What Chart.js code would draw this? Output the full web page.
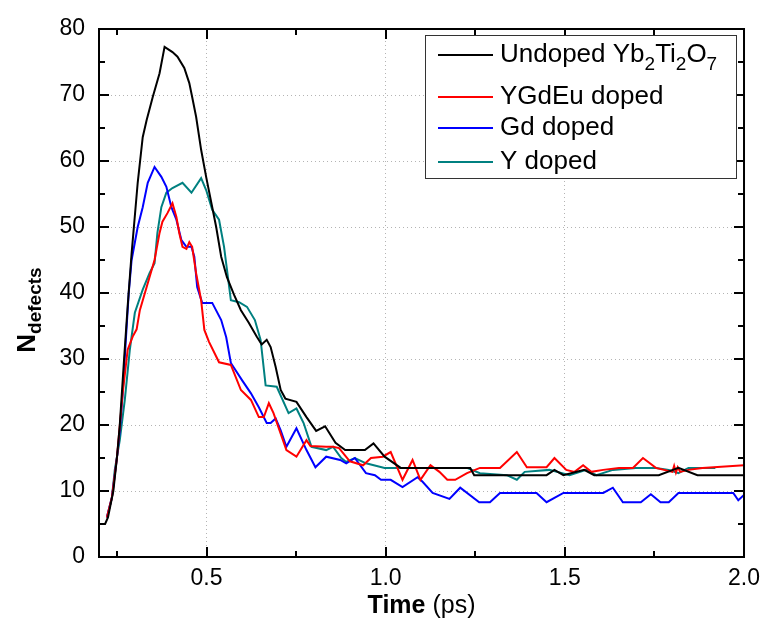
<!DOCTYPE html>
<html>
<head>
<meta charset="utf-8">
<script src="https://cdn.jsdelivr.net/npm/chart.js@4.4.1/dist/chart.umd.min.js"></script>
<style>
  html, body { margin: 0; padding: 0; background: #fff; }
  #wrap { position: relative; width: 768px; height: 622px; }
</style>
</head>
<body>
<div id="wrap"><canvas id="chart" width="768" height="622"></canvas></div>
<script>
// Defect counts vs time
const undopedT = [0.2, 0.217, 0.225, 0.24, 0.25, 0.258, 0.27, 0.28, 0.291, 0.308, 0.322, 0.333, 0.35, 0.369, 0.383, 0.405, 0.419, 0.438, 0.452, 0.46, 0.471, 0.485, 0.499, 0.516, 0.527, 0.541, 0.557, 0.577, 0.596, 0.618, 0.64, 0.654, 0.668, 0.679, 0.693, 0.707, 0.72, 0.751, 0.779, 0.806, 0.831, 0.86, 0.887, 0.942, 0.966, 0.997, 1.042, 1.236, 1.247, 1.449, 1.471, 1.496, 1.554, 1.582, 1.762, 1.817, 1.87, 2.0];
const undopedN = [5, 5, 6, 10, 15, 20, 30, 38, 46, 56.7, 63.6, 66.2, 69.7, 73.3, 77.3, 76.5, 75.8, 74.1, 71.8, 69.7, 66.7, 61.7, 57.6, 53, 50, 45.5, 42.4, 39.7, 37.4, 35.5, 33.4, 32.2, 32.9, 31.8, 28.8, 25.3, 24, 23.5, 21.2, 19.1, 19.8, 17.3, 16.2, 16.2, 17.2, 15.2, 13.5, 13.5, 12.4, 12.4, 13.2, 12.4, 13.2, 12.4, 12.4, 13.5, 12.4, 12.4];

const ygdeuT = [0.222, 0.236, 0.25, 0.266, 0.28, 0.294, 0.305, 0.314, 0.333, 0.355, 0.369, 0.377, 0.391, 0.405, 0.416, 0.424, 0.433, 0.444, 0.452, 0.46, 0.471, 0.485, 0.494, 0.507, 0.535, 0.568, 0.596, 0.624, 0.646, 0.66, 0.674, 0.687, 0.723, 0.751, 0.779, 0.79, 0.834, 0.853, 0.87, 0.9, 0.937, 0.959, 0.992, 1.014, 1.047, 1.075, 1.097, 1.125, 1.15, 1.172, 1.194, 1.227, 1.263, 1.319, 1.366, 1.394, 1.449, 1.471, 1.504, 1.527, 1.551, 1.574, 1.607, 1.651, 1.69, 1.718, 1.754, 1.8, 1.805, 1.81, 1.815, 1.822, 1.845, 1.884, 2.0];
const ygdeuN = [6, 9, 15, 24.8, 31.4, 33.4, 34.5, 37.4, 40.9, 45, 49.1, 50.8, 52.1, 53.6, 51.5, 49.1, 47, 46.7, 47.7, 47, 43, 38.9, 34.4, 32.6, 29.5, 29.1, 25.3, 23.8, 21.2, 21.2, 23.3, 21.8, 16.2, 15.2, 17.7, 16.8, 16.7, 16.7, 16.5, 14.5, 13.9, 15, 15.2, 15.9, 11.7, 14.7, 11.7, 13.9, 12.9, 11.7, 11.7, 12.7, 13.5, 13.5, 15.9, 13.6, 13.6, 15, 13.2, 12.9, 13.9, 12.9, 13.2, 13.5, 13.5, 15, 13.5, 12.9, 13.8, 12.8, 13.6, 12.9, 13.2, 13.5, 13.9];

const gdT = [0.222, 0.236, 0.25, 0.258, 0.266, 0.275, 0.283, 0.291, 0.308, 0.322, 0.336, 0.355, 0.374, 0.388, 0.402, 0.416, 0.43, 0.444, 0.458, 0.466, 0.474, 0.488, 0.516, 0.541, 0.555, 0.568, 0.599, 0.624, 0.646, 0.668, 0.679, 0.693, 0.707, 0.723, 0.751, 0.779, 0.804, 0.834, 0.873, 0.89, 0.914, 0.945, 0.97, 0.987, 1.014, 1.047, 1.089, 1.103, 1.131, 1.178, 1.208, 1.261, 1.291, 1.319, 1.421, 1.449, 1.496, 1.607, 1.634, 1.662, 1.712, 1.74, 1.767, 1.79, 1.817, 1.97, 1.984, 2.0];
const gdN = [6, 9, 15, 19.2, 24.8, 33, 40, 45, 50, 53, 56.7, 59.1, 57.6, 56.1, 53, 51.1, 48, 47, 47, 45.5, 40.9, 38.5, 38.5, 35.9, 33.3, 29.4, 26.8, 24.8, 22.7, 20.3, 20.3, 21, 19.2, 16.7, 19.5, 16.2, 13.6, 15.2, 14.7, 14.2, 15, 12.7, 12.4, 11.7, 11.7, 10.6, 12.1, 11.4, 9.7, 8.8, 10.5, 8.3, 8.3, 9.7, 9.7, 8.3, 9.7, 9.7, 10.5, 8.3, 8.3, 9.5, 8.3, 8.3, 9.7, 9.7, 8.6, 9.4];

const yT = [0.222, 0.236, 0.244, 0.258, 0.272, 0.286, 0.3, 0.322, 0.341, 0.355, 0.363, 0.374, 0.388, 0.405, 0.433, 0.458, 0.485, 0.499, 0.516, 0.535, 0.549, 0.568, 0.591, 0.613, 0.635, 0.651, 0.665, 0.696, 0.729, 0.751, 0.771, 0.793, 0.834, 0.853, 0.876, 0.89, 0.914, 0.945, 0.997, 1.227, 1.263, 1.338, 1.366, 1.388, 1.457, 1.513, 1.56, 1.588, 1.634, 1.698, 1.754, 1.79, 1.817, 1.845, 1.92];
const yN = [6, 9, 13.2, 17.7, 23.8, 31.4, 37, 40.5, 43, 44.5, 49.1, 53, 55.2, 55.9, 56.7, 55.2, 57.4, 55.6, 52.6, 51.1, 47, 38.9, 38.6, 37.9, 35.9, 32.9, 26, 25.8, 21.8, 22.5, 20.3, 16.7, 16.2, 16.7, 15, 14.4, 15, 14.2, 13.5, 13.5, 12.7, 12.4, 11.7, 12.9, 13.2, 12.4, 13.2, 12.4, 13.2, 13.5, 13.5, 13.2, 12.7, 13.5, 13.5];

const xMajor = [0.5, 1.0, 1.5, 2.0];
const xMinor = [0.25, 0.75, 1.25, 1.75];
const yMajor = [0, 10, 20, 30, 40, 50, 60, 70, 80];
const yMinor = [5, 15, 25, 35, 45, 55, 65, 75];

const FONT = '"Liberation Sans", Arial, sans-serif';

// legend text pieces: [text, isSubscript]
const legendItems = [
    { color: '#000000', parts: [['Undoped Yb', 0], ['2', 1], ['Ti', 0], ['2', 1], ['O', 0], ['7', 1]] },
    { color: '#ff0000', parts: [['YGdEu doped', 0]] },
    { color: '#0000ff', parts: [['Gd doped', 0]] },
    { color: '#008080', parts: [['Y doped', 0]] }
];

function pts(ts, ns) {
    return ts.map((t, i) => ({ x: t, y: ns[i] }));
}

function series(label, ts, ns, color) {
    return {
        label: label,
        data: pts(ts, ns),
        borderColor: color,
        backgroundColor: color,
        borderWidth: 2,
        pointRadius: 0,
        tension: 0,
        fill: false
    };
}

const framePlugin = {
    id: 'frame',
    afterDraw(chart) {
        const ctx = chart.ctx;
        const a = chart.chartArea;
        const xs = chart.scales.x, ys = chart.scales.y;
        ctx.save();
        ctx.strokeStyle = '#000';
        ctx.lineWidth = 2;
        ctx.strokeRect(a.left, a.top, a.right - a.left, a.bottom - a.top);

        // inward ticks on all four sides
        function xTick(v, len) {
            const px = Math.round(xs.getPixelForValue(v));
            ctx.beginPath();
            ctx.moveTo(px, a.bottom); ctx.lineTo(px, a.bottom - len);
            ctx.moveTo(px, a.top); ctx.lineTo(px, a.top + len);
            ctx.stroke();
        }
        function yTick(v, len) {
            const py = Math.round(ys.getPixelForValue(v));
            ctx.beginPath();
            ctx.moveTo(a.left, py); ctx.lineTo(a.left + len, py);
            ctx.moveTo(a.right, py); ctx.lineTo(a.right - len, py);
            ctx.stroke();
        }
        xMajor.forEach(v => xTick(v, 10));
        xMinor.forEach(v => xTick(v, 6));
        yMajor.forEach(v => yTick(v, 10));
        yMinor.forEach(v => yTick(v, 6));

        // legend
        const lx = 425, ly = 35, lw = 311, lh = 143;
        ctx.fillStyle = '#fff';
        ctx.fillRect(lx, ly, lw, lh);
        ctx.strokeStyle = '#333';
        ctx.lineWidth = 1;
        ctx.strokeRect(lx + 0.5, ly + 0.5, lw, lh);
        const rows = [55, 97, 128, 162];
        legendItems.forEach((item, i) => {
            const y = rows[i];
            ctx.strokeStyle = item.color;
            ctx.lineWidth = 2;
            ctx.beginPath();
            ctx.moveTo(438, y); ctx.lineTo(493, y);
            ctx.stroke();
            let x = 500;
            ctx.fillStyle = '#000';
            ctx.textBaseline = 'middle';
            ctx.textAlign = 'left';
            item.parts.forEach(p => {
                if (p[1]) {
                    ctx.font = '19px ' + FONT;
                    ctx.fillText(p[0], x, y + 10);
                } else {
                    ctx.font = '26px ' + FONT;
                    ctx.fillText(p[0], x, y);
                }
                x += ctx.measureText(p[0]).width;
            });
        });

        // x axis title
        ctx.fillStyle = '#000';
        ctx.textBaseline = 'middle';
        ctx.textAlign = 'left';
        ctx.font = 'bold 25px ' + FONT;
        const w1 = ctx.measureText('Time').width;
        ctx.font = '25px ' + FONT;
        const w2 = ctx.measureText(' (ps)').width;
        const cx = (a.left + a.right) / 2;
        let tx = cx - (w1 + w2) / 2;
        ctx.font = 'bold 25px ' + FONT;
        ctx.fillText('Time', tx, 606);
        ctx.font = '25px ' + FONT;
        ctx.fillText(' (ps)', tx + w1, 606);

        // y axis title: N with subscript "defects"
        ctx.save();
        ctx.translate(28, 310);
        ctx.rotate(-Math.PI / 2);
        ctx.font = 'bold 26px ' + FONT;
        const wn = ctx.measureText('N').width;
        ctx.font = 'bold 19px ' + FONT;
        const wd = ctx.measureText('defects').width;
        const sx = -(wn + wd) / 2;
        ctx.font = 'bold 26px ' + FONT;
        ctx.fillText('N', sx, 0);
        ctx.font = 'bold 19px ' + FONT;
        ctx.fillText('defects', sx + wn, 8);
        ctx.restore();

        ctx.restore();
    }
};

new Chart(document.getElementById('chart'), {
    type: 'line',
    data: {
        datasets: [
            series('Undoped Yb2Ti2O7', undopedT, undopedN, '#000000'),
            series('YGdEu doped', ygdeuT, ygdeuN, '#ff0000'),
            series('Gd doped', gdT, gdN, '#0000ff'),
            series('Y doped', yT, yN, '#008080')
        ]
    },
    options: {
        responsive: false,
        animation: false,
        layout: { padding: { left: 0, top: 29, right: 19, bottom: 0 } },
        plugins: {
            legend: { display: false },
            tooltip: { enabled: false }
        },
        scales: {
            x: {
                type: 'linear',
                min: 0.2,
                max: 2.0,
                afterBuildTicks: s => { s.ticks = xMajor.map(v => ({ value: v })); },
                afterFit: s => { s.height = 65; },
                ticks: {
                    color: '#000',
                    font: { family: FONT, size: 23 },
                    padding: 8,
                    maxRotation: 0,
                    callback: v => v.toFixed(1)
                },
                grid: { color: '#b4b4b4', lineWidth: 1, drawTicks: false },
                border: { display: false, dash: [1, 3] }
            },
            y: {
                min: 0,
                max: 80,
                afterBuildTicks: s => { s.ticks = yMajor.map(v => ({ value: v })); },
                afterFit: s => { s.width = 99; },
                ticks: {
                    color: '#000',
                    font: { family: FONT, size: 23 },
                    padding: 14
                },
                grid: { color: '#b4b4b4', lineWidth: 1, drawTicks: false },
                border: { display: false, dash: [1, 3] }
            }
        }
    },
    plugins: [framePlugin]
});
</script>
</body>
</html>
